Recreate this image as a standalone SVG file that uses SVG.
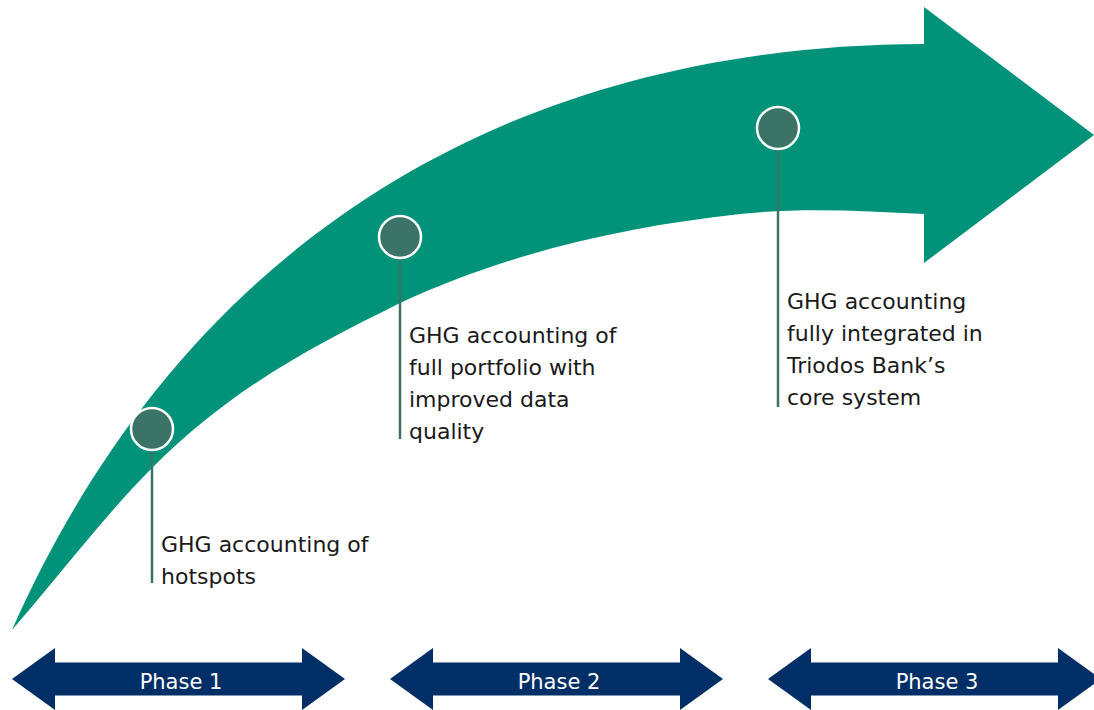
<svg xmlns="http://www.w3.org/2000/svg" width="1094" height="710" viewBox="0 0 1094 710">
<style>
.lbl{font-family:"DejaVu Sans","Liberation Sans",sans-serif;font-size:22px;fill:#1a1a1a}
.ph{font-family:"DejaVu Sans","Liberation Sans",sans-serif;font-size:21px;fill:#ffffff;text-anchor:middle}
.dot{fill:#3b7466;stroke:#ffffff;stroke-width:2.5}
.conn line{stroke:#3b7466;stroke-width:2.5}
.phase{fill:#002f67}
</style>
<defs>
<path id="dbl" d="M0,0 L43,-31 L43,-16.5 L290,-16.5 L290,-31 L333,0 L290,31 L290,16.5 L43,16.5 L43,31 Z"/>
</defs>
<rect width="1094" height="710" fill="#ffffff"/>
<g id="growth-arrow">
<path fill="#00937a" d="M12,630 C180,250 500,45 924,44 L924,7 L1094,135 L924,263 L924,214 C862.7,210.9 801.3,207.3 740,214 C626.7,226.5 513.3,250.9 400,303 C317.3,344.3 234.7,385.3 152,468 C105.3,514.7 58.7,576.3 12,630 Z"/>
</g>
<g class="conn" id="connectors">
<line x1="152" y1="451" x2="152" y2="583"/>
<line x1="400" y1="259" x2="400" y2="439"/>
<line x1="778" y1="150" x2="778" y2="407"/>
</g>
<g id="milestone1">
<circle class="dot" cx="152" cy="429" r="21"/>
<text class="lbl" x="161" y="552">GHG accounting of</text>
<text class="lbl" x="161" y="584">hotspots</text>
</g>
<g id="milestone2">
<circle class="dot" cx="400" cy="237" r="21"/>
<text class="lbl" x="409" y="343">GHG accounting of</text>
<text class="lbl" x="409" y="375">full portfolio with</text>
<text class="lbl" x="409" y="407">improved data</text>
<text class="lbl" x="409" y="439">quality</text>
</g>
<g id="milestone3">
<circle class="dot" cx="778" cy="128" r="21"/>
<text class="lbl" x="787" y="309">GHG accounting</text>
<text class="lbl" x="787" y="341">fully integrated in</text>
<text class="lbl" x="787" y="373">Triodos Bank’s</text>
<text class="lbl" x="787" y="405">core system</text>
</g>
<g id="phase1">
<use href="#dbl" class="phase" transform="translate(12,679)"/>
<text class="ph" x="181" y="689">Phase 1</text>
</g>
<g id="phase2">
<use href="#dbl" class="phase" transform="translate(390,679)"/>
<text class="ph" x="559" y="689">Phase 2</text>
</g>
<g id="phase3">
<use href="#dbl" class="phase" transform="translate(768,679)"/>
<text class="ph" x="937" y="689">Phase 3</text>
</g>
</svg>
